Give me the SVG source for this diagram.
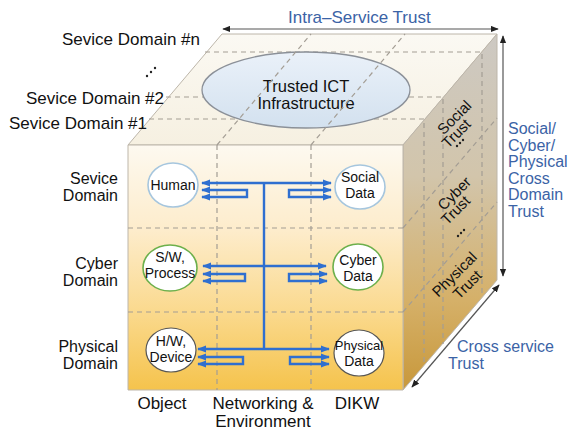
<svg xmlns="http://www.w3.org/2000/svg" width="572" height="435" viewBox="0 0 572 435">
  <defs>
    <linearGradient id="gFront" x1="0" y1="145" x2="0" y2="390" gradientUnits="userSpaceOnUse">
      <stop offset="0" stop-color="#fdf9f0"/>
      <stop offset="0.35" stop-color="#fdeccb"/>
      <stop offset="0.7" stop-color="#fad88a"/>
      <stop offset="1" stop-color="#f5c34c"/>
    </linearGradient>
    <linearGradient id="gTop" x1="0" y1="145" x2="0" y2="34" gradientUnits="userSpaceOnUse">
      <stop offset="0" stop-color="#f6f0e1"/>
      <stop offset="1" stop-color="#fbf9f3"/>
    </linearGradient>
    <linearGradient id="gSide" x1="0" y1="34" x2="0" y2="390" gradientUnits="userSpaceOnUse">
      <stop offset="0" stop-color="#cdc9c3"/>
      <stop offset="0.4" stop-color="#d2c5ab"/>
      <stop offset="0.75" stop-color="#d5b068"/>
      <stop offset="1" stop-color="#c8983b"/>
    </linearGradient>
    <linearGradient id="gCloud" x1="0" y1="52" x2="0" y2="128" gradientUnits="userSpaceOnUse">
      <stop offset="0" stop-color="#eaf1f9"/>
      <stop offset="1" stop-color="#d3e1ef"/>
    </linearGradient>
    <marker id="blueHead" viewBox="0 0 10 8" refX="9" refY="4" markerWidth="9" markerHeight="8" markerUnits="userSpaceOnUse" orient="auto-start-reverse">
      <path d="M0,0 L10,4 L0,8 z" fill="#2f6fd0"/>
    </marker>
    <marker id="darkHead" viewBox="0 0 10 8" refX="9" refY="4" markerWidth="8" markerHeight="7" markerUnits="userSpaceOnUse" orient="auto-start-reverse">
      <path d="M0,0 L10,4 L0,8 z" fill="#222"/>
    </marker>
  </defs>
  <style>
    text { font-family: "Liberation Sans", Arial, sans-serif; fill: #111; }
    .lbl { font-size: 17px; }
    .row { font-size: 16px; text-anchor: end; }
    .col { font-size: 17px; text-anchor: middle; }
    .blue { font-size: 16px; fill: #3b63a6; }
    .node { font-size: 14px; text-anchor: middle; }
    .side { font-size: 15px; text-anchor: middle; }
    .face-edge { stroke: #bdb6aa; stroke-width: 1; }
    .dash { fill: none; stroke: #a39d94; stroke-width: 1.2; stroke-dasharray: 5 4; }
    .flow { fill: none; stroke: #2f6fd0; stroke-width: 2.4; }
    .dimline { fill: none; stroke: #555; stroke-width: 1.2; }
    .dot { fill: #222; }
  </style>

  <!-- cube faces -->
  <g id="cube">
    <polygon points="128,145 222,34 497,34 403,145" fill="url(#gTop)" class="face-edge"/>
    <polygon points="403,145 497,34 497,280 403,390" fill="url(#gSide)" class="face-edge"/>
    <polygon points="128,145 403,145 403,390 128,390" fill="url(#gFront)" class="face-edge"/>

    <!-- service-domain layers on the top face and their traces on the side -->
    <path class="dash" d="M205,52 H482 V297"/>
    <path class="dash" d="M166,97 H443 V344"/>
    <path class="dash" d="M149,119 H424 V365"/>
    <!-- row traces on the side face -->
    <path class="dash" d="M403,228 L497,118"/>
    <path class="dash" d="M403,312 L497,202"/>
    <!-- front grid -->
    <path class="dash" d="M217,145 V390 M311,145 V390"/>
    <path class="dash" d="M128,228 H403 M128,312 H403"/>
  </g>

  <!-- shared infrastructure layer -->
  <g id="trusted-ict">
    <ellipse cx="306" cy="90" rx="104" ry="38" fill="url(#gCloud)" stroke="#8b9098" stroke-width="1.3"/>
    <text class="col" style="font-size:16.5px"><tspan x="306" y="92">Trusted ICT</tspan><tspan x="306" y="109">Infrastructure</tspan></text>
  </g>
  <!-- column traces on the top face -->
  <path class="dash" d="M217,145 L311,34 M311,145 L405,34"/>

  <!-- trust dimension arrows -->
  <g id="dimensions">
    <path class="dimline" d="M223,29 H498" marker-start="url(#darkHead)" marker-end="url(#darkHead)"/>
    <path class="dimline" d="M503,36 V276" marker-start="url(#darkHead)" marker-end="url(#darkHead)"/>
    <path class="dimline" d="M412,387 L499,285" marker-start="url(#darkHead)" marker-end="url(#darkHead)"/>
  </g>

  <!-- data flows across the networking column -->
  <g id="connectors">
    <path class="flow" d="M264,183 V349"/>
    <path class="flow" d="M202,183 H331" marker-start="url(#blueHead)" marker-end="url(#blueHead)"/>
    <path class="flow" d="M202,190 H247 V197 H202" marker-start="url(#blueHead)" marker-end="url(#blueHead)"/>
    <path class="flow" d="M331,190 H289 V197 H331" marker-start="url(#blueHead)" marker-end="url(#blueHead)"/>

    <path class="flow" d="M203,266 H326" marker-start="url(#blueHead)" marker-end="url(#blueHead)"/>
    <path class="flow" d="M203,274 H245 V281 H203" marker-start="url(#blueHead)" marker-end="url(#blueHead)"/>
    <path class="flow" d="M327,274 H289 V281 H327" marker-start="url(#blueHead)" marker-end="url(#blueHead)"/>

    <path class="flow" d="M198,349 H329" marker-start="url(#blueHead)" marker-end="url(#blueHead)"/>
    <path class="flow" d="M198,357 H243 V364 H198" marker-start="url(#blueHead)" marker-end="url(#blueHead)"/>
    <path class="flow" d="M329,357 H290 V364 H329" marker-start="url(#blueHead)" marker-end="url(#blueHead)"/>
  </g>

  <!-- objects and data -->
  <g id="human">
    <ellipse cx="173" cy="185" rx="25" ry="22" fill="#fff" stroke="#a6c6de" stroke-width="1.6"/>
    <text class="node" x="173" y="190">Human</text>
  </g>
  <g id="social-data">
    <ellipse cx="360" cy="187" rx="25" ry="22" fill="#fff" stroke="#a6c6de" stroke-width="1.6"/>
    <text class="node"><tspan x="360" y="182">Social</tspan><tspan x="360" y="198">Data</tspan></text>
  </g>
  <g id="sw-process">
    <ellipse cx="170" cy="268" rx="27" ry="23" fill="#fff" stroke="#6db04c" stroke-width="1.6"/>
    <text class="node"><tspan x="170" y="262">S/W,</tspan><tspan x="170" y="278">Process</tspan></text>
  </g>
  <g id="cyber-data">
    <ellipse cx="358" cy="267" rx="25" ry="23" fill="#fff" stroke="#6db04c" stroke-width="1.6"/>
    <text class="node"><tspan x="358" y="265">Cyber</tspan><tspan x="358" y="281">Data</tspan></text>
  </g>
  <g id="hw-device">
    <ellipse cx="171" cy="350" rx="25" ry="22" fill="#fff" stroke="#555" stroke-width="1.2"/>
    <text class="node"><tspan x="171" y="346">H/W,</tspan><tspan x="171" y="362">Device</tspan></text>
  </g>
  <g id="physical-data">
    <ellipse cx="359" cy="353" rx="25" ry="23" fill="#fff" stroke="#555" stroke-width="1.2"/>
    <text class="node"><tspan x="359" y="350" style="font-size:13px">Physical</tspan><tspan x="359" y="366">Data</tspan></text>
  </g>

  <!-- side face labels -->
  <g id="side-labels">
    <text class="side" transform="translate(458,121) rotate(-45)"><tspan x="0" y="0">Social</tspan><tspan x="-10" y="12.7">Trust</tspan></text>
    <circle class="dot" cx="457" cy="146" r="1.2"/><circle class="dot" cx="460" cy="143" r="1.2"/><circle class="dot" cx="463" cy="140" r="1.2"/>
    <text class="side" transform="translate(458,197) rotate(-45)"><tspan x="0" y="0">Cyber</tspan><tspan x="-11" y="12.7">Trust</tspan></text>
    <circle class="dot" cx="458" cy="236" r="1.2"/><circle class="dot" cx="461" cy="233" r="1.2"/><circle class="dot" cx="464" cy="230" r="1.2"/>
    <text class="side" transform="translate(458,278) rotate(-45)"><tspan x="0" y="0">Physical</tspan><tspan x="2" y="16.3">Trust</tspan></text>
  </g>

  <!-- layer and domain labels -->
  <g id="labels">
    <text class="lbl" x="200" y="45" text-anchor="end">Sevice Domain #n</text>
    <circle class="dot" cx="147" cy="76" r="1.2"/><circle class="dot" cx="151" cy="72" r="1.2"/><circle class="dot" cx="155" cy="68" r="1.2"/>
    <text class="lbl" x="164" y="104" text-anchor="end">Sevice Domain #2</text>
    <text class="lbl" x="147" y="129" text-anchor="end">Sevice Domain #1</text>

    <text class="row"><tspan x="118" y="184">Sevice</tspan><tspan x="118" y="201">Domain</tspan></text>
    <text class="row"><tspan x="118" y="269">Cyber</tspan><tspan x="118" y="286">Domain</tspan></text>
    <text class="row"><tspan x="118" y="352">Physical</tspan><tspan x="118" y="369">Domain</tspan></text>

    <text class="col" x="162" y="409">Object</text>
    <text class="col"><tspan x="263" y="409">Networking &amp;</tspan><tspan x="263" y="427">Environment</tspan></text>
    <text class="col" x="357" y="409">DIKW</text>

    <text class="blue" x="288" y="23" style="font-size:17px">Intra–Service Trust</text>
    <text class="blue"><tspan x="508" y="134">Social/</tspan><tspan x="508" y="150.5">Cyber/</tspan><tspan x="508" y="167">Physical</tspan><tspan x="508" y="183.5">Cross</tspan><tspan x="508" y="200">Domain</tspan><tspan x="508" y="216.5">Trust</tspan></text>
    <text class="blue"><tspan x="457" y="352">Cross service</tspan><tspan x="448" y="369">Trust</tspan></text>
  </g>
</svg>
